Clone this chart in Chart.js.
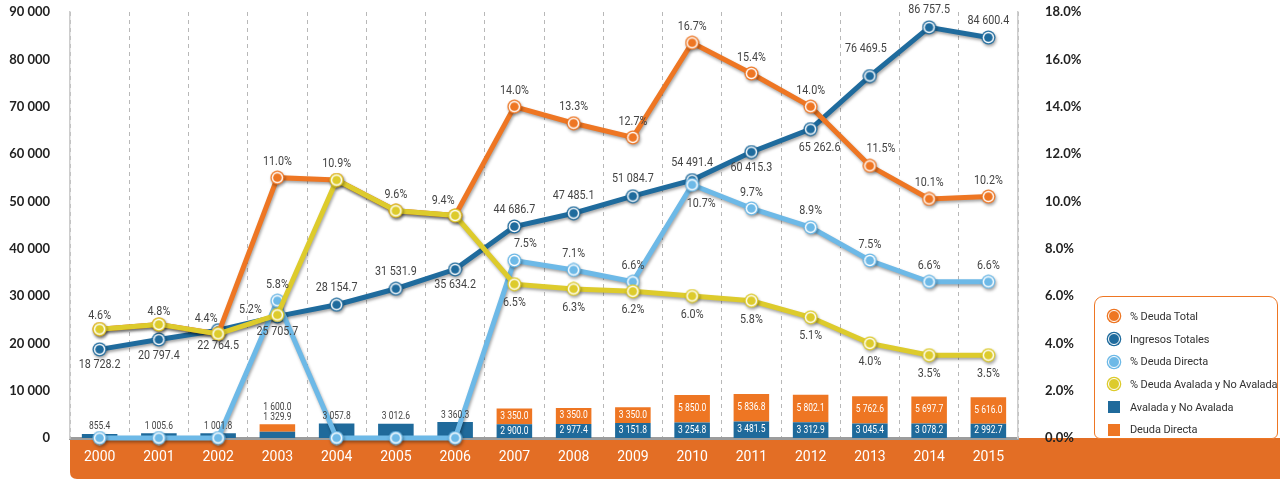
<!DOCTYPE html>
<html>
<head>
<meta charset="utf-8">
<script src="https://cdn.jsdelivr.net/npm/chart.js@4/dist/chart.umd.min.js"></script>
<style>
  html, body { margin: 0; padding: 0; background: #fff; }
  #wrap { position: relative; width: 1280px; height: 479px; overflow: hidden; }
  canvas { display: block; }
  #legend {
    position: absolute; left: 1094px; top: 296px; width: 184px; height: 143px;
    box-sizing: border-box; border: 1.5px solid #EE7623; border-radius: 9px 9px 6px 6px;
    background: #fff; padding-top: 8px;
    font: 11px Roboto, 'Open Sans', sans-serif; letter-spacing: -0.1px; color: #333; white-space: nowrap;
  }
  .row { height: 22.7px; display: flex; align-items: center; }
  .mk { width: 12px; height: 12px; margin-left: 13px; margin-right: 10px; flex: none; box-sizing: border-box; }
  .dot { border-radius: 50%; }
</style>
</head>
<body>
<div id="wrap">
  <canvas id="c" width="1280" height="479"></canvas>
  <div id="legend"></div>
</div>
<script>
// ---------- DATA ----------
const years = ['2000','2001','2002','2003','2004','2005','2006','2007','2008','2009','2010','2011','2012','2013','2014','2015'];
const ingresosTotales = [18728.2, 20797.4, 22764.5, 25705.7, 28154.7, 31531.9, 35634.2, 44686.7, 47485.1, 51084.7, 54491.4, 60415.3, 65262.6, 76469.5, 86757.5, 84600.4];
const pctDeudaTotal = [4.6, 4.8, 4.4, 11.0, 10.9, 9.6, 9.4, 14.0, 13.3, 12.7, 16.7, 15.4, 14.0, 11.5, 10.1, 10.2];
const pctDeudaDirecta = [0, 0, 0, 5.8, 0, 0, 0, 7.5, 7.1, 6.6, 10.7, 9.7, 8.9, 7.5, 6.6, 6.6];
const pctDeudaAvalada = [4.6, 4.8, 4.4, 5.2, 10.9, 9.6, 9.4, 6.5, 6.3, 6.2, 6.0, 5.8, 5.1, 4.0, 3.5, 3.5];
const avaladaNoAvalada = [855.4, 1005.6, 1001.8, 1329.9, 3057.8, 3012.6, 3360.3, 2900.0, 2977.4, 3151.8, 3254.8, 3481.5, 3312.9, 3045.4, 3078.2, 2992.7];
const deudaDirecta = [0, 0, 0, 1600.0, 0, 0, 0, 3350.0, 3350.0, 3350.0, 5850.0, 5836.8, 5802.1, 5762.6, 5697.7, 5616.0];
const leftTicks = { min: 0, max: 90000, step: 10000 };
const rightTicks = { min: 0, max: 18, step: 2 };

// ---------- LABEL PLACEMENT (codes, not data) ----------
const placeIngresos = ['b','b','b','b','A','A','b','A','A','A','A','b','br','AL','A','A'];
const placeTotal    = ['n','n','n','a','n','n','n','a','a','a','a','a','a','ar','a','a'];
const placeDirecta  = ['n','n','n','a','n','n','n','ar','a','a','br','a','a','a','a','a'];
const placeAvalada  = ['a2','a2','al','l','a','a','al','B','B','B','B','B','B','B','B','B'];
const OFFS = { a:[0,-16], a2:[0,-13], A:[0,-17], AL:[-4,-27], b:[0,16], B:[0,19], al:[-12,-15], ar:[11,-17], br:[9,19], l:[-27,-5] };

// ---------- STYLE ----------
const C_ORANGE = '#EE7623', C_DBLUE = '#1F6B9D', C_LBLUE = '#6DB9E7', C_YELLOW = '#DDCB2C';
const C_BAR_BLUE = '#1F6A9B', C_BAR_ORANGE = '#EE7623', C_BAND = '#E36E25';
const LBL = "Roboto, 'Open Sans', sans-serif";
const BOLD = "Lato, 'DejaVu Sans', sans-serif";

function fmtNum(v) {
  const [i, d] = v.toFixed(1).split('.');
  return i.replace(/\B(?=(\d{3})+(?!\d))/g, ' ') + '.' + d;
}
function fmtInt(v) { return String(v).replace(/\B(?=(\d{3})+(?!\d))/g, ' '); }
function fmtPct(v) { return v.toFixed(1) + '%'; }

function marker(color) {
  const s = 15, c = document.createElement('canvas');
  c.width = c.height = s;
  const g = c.getContext('2d'), m = s / 2;
  g.beginPath(); g.arc(m, m, 7, 0, 2 * Math.PI); g.fillStyle = color; g.fill();
  g.beginPath(); g.arc(m, m, 5.7, 0, 2 * Math.PI); g.fillStyle = '#fff'; g.fill();
  g.beginPath(); g.arc(m, m, 4.3, 0, 2 * Math.PI); g.fillStyle = color; g.fill();
  return c;
}

function lineDs(label, data, color, axis, order) {
  return {
    type: 'line', label, data, yAxisID: axis, order,
    borderColor: color, backgroundColor: color, borderWidth: 5,
    pointStyle: marker(color), pointRadius: 7, pointHoverRadius: 7,
    tension: 0, clip: false, fill: false
  };
}

function narrowText(ctx, text, x, y, sx) {
  ctx.save();
  ctx.translate(x, y);
  ctx.scale(sx, 1);
  ctx.fillText(text, 0, 0);
  ctx.restore();
}

// ---------- PLUGINS ----------
const bandPlugin = {
  id: 'band',
  beforeDraw(chart) {
    const { ctx, chartArea: a, width, height } = chart;
    const x0 = a.left, y0 = a.bottom, r = 7;
    ctx.save();
    ctx.fillStyle = C_BAND;
    ctx.beginPath();
    ctx.moveTo(x0, y0);
    ctx.lineTo(width, y0);
    ctx.lineTo(width, height);
    ctx.lineTo(x0 + r, height);
    ctx.quadraticCurveTo(x0, height, x0, height - r);
    ctx.closePath();
    ctx.fill();
    ctx.restore();
  }
};

const shadowPlugin = {
  id: 'shadow',
  beforeDatasetDraw(chart, args) {
    if (chart.data.datasets[args.index].type !== 'line') return;
    const c = chart.ctx;
    c.save();
    c.shadowColor = 'rgba(0,0,0,0.35)';
    c.shadowBlur = 3; c.shadowOffsetX = 1; c.shadowOffsetY = 2;
  },
  afterDatasetDraw(chart, args) {
    if (chart.data.datasets[args.index].type !== 'line') return;
    chart.ctx.restore();
  }
};

const labelsPlugin = {
  id: 'vlabels',
  afterDatasetsDraw(chart) {
    const ctx = chart.ctx;
    ctx.save();
    ctx.textAlign = 'center';
    ctx.textBaseline = 'middle';
    const specs = [
      [1, placeIngresos, fmtNum],
      [0, placeTotal, fmtPct],
      [2, placeDirecta, fmtPct],
      [3, placeAvalada, fmtPct]
    ];
    ctx.font = '12.5px ' + LBL;
    ctx.fillStyle = '#444';
    specs.forEach(([idx, place, f]) => {
      const meta = chart.getDatasetMeta(idx);
      const data = chart.data.datasets[idx].data;
      meta.data.forEach((el, j) => {
        const o = OFFS[place[j]];
        if (!o) return;
        narrowText(ctx, f(data[j]), el.x + o[0], el.y + o[1], 0.86);
      });
    });
    const mb = chart.getDatasetMeta(4), mo = chart.getDatasetMeta(5);
    const db = chart.data.datasets[4].data, dor = chart.data.datasets[5].data;
    ctx.font = '10px ' + LBL;
    mb.data.forEach((eb, j) => {
      const eo = mo.data[j];
      const hO = eo.base - eo.y;
      if (dor[j] === 0 || hO < 12) {
        const top = Math.min(eb.y, eo.y);
        ctx.fillStyle = '#444';
        narrowText(ctx, fmtNum(db[j]), eb.x, top - 7, 0.85);
        if (dor[j] !== 0) narrowText(ctx, fmtNum(dor[j]), eb.x, top - 17, 0.85);
      } else {
        ctx.fillStyle = '#fff';
        narrowText(ctx, fmtNum(db[j]), eb.x, (eb.y + eb.base) / 2, 0.85);
        narrowText(ctx, fmtNum(dor[j]), eo.x, (eo.y + eo.base) / 2, 0.85);
      }
    });
    ctx.restore();
  }
};

// ---------- CHART ----------
new Chart(document.getElementById('c'), {
  type: 'bar',
  data: {
    labels: years,
    datasets: [
      lineDs('% Deuda Total', pctDeudaTotal, C_ORANGE, 'y1', 3),
      lineDs('Ingresos Totales', ingresosTotales, C_DBLUE, 'y', 4),
      lineDs('% Deuda Directa', pctDeudaDirecta, C_LBLUE, 'y1', 2),
      lineDs('% Deuda Avalada y No Avalada', pctDeudaAvalada, C_YELLOW, 'y1', 1),
      { type: 'bar', label: 'Avalada y No Avalada', data: avaladaNoAvalada, yAxisID: 'y', stack: 'deuda', order: 10,
        backgroundColor: C_BAR_BLUE, borderWidth: 0, barPercentage: 0.6, categoryPercentage: 1 },
      { type: 'bar', label: 'Deuda Directa', data: deudaDirecta, yAxisID: 'y', stack: 'deuda', order: 10,
        backgroundColor: C_BAR_ORANGE, borderWidth: 0, barPercentage: 0.6, categoryPercentage: 1 }
    ]
  },
  options: {
    responsive: false,
    animation: false,
    devicePixelRatio: 1,
    layout: { padding: { top: 12, left: 0, right: 0, bottom: 0 } },
    plugins: { legend: { display: false }, tooltip: { enabled: false } },
    scales: {
      x: {
        offset: true,
        grid: { display: true, offset: true, color: '#b8b8b8', lineWidth: 1, drawTicks: false },
        border: { display: true, color: '#9c9c9c', width: 3, dash: [4, 4] },
        ticks: { color: '#fff', font: { family: LBL, size: 14 }, padding: 11 },
        afterFit: s => { s.height = 41; }
      },
      y: {
        position: 'left', min: leftTicks.min, max: leftTicks.max,
        grid: { display: false, drawTicks: true, tickLength: 18 },
        border: { display: true, color: '#cdcdcd', width: 1.5 },
        ticks: { stepSize: leftTicks.step, padding: 2, color: '#222',
          font: { family: BOLD, size: 13, weight: 'bold' }, callback: v => fmtInt(v) },
        afterFit: s => { s.width = 70; }
      },
      y1: {
        position: 'right', min: rightTicks.min, max: rightTicks.max,
        grid: { display: false, drawTicks: true, tickLength: 25 },
        border: { display: true, color: '#cdcdcd', width: 1.5 },
        ticks: { stepSize: rightTicks.step, padding: 2, color: '#222',
          font: { family: BOLD, size: 13, weight: 'bold' }, callback: v => v.toFixed(1) + '%' },
        afterFit: s => { s.width = 262; }
      }
    }
  },
  plugins: [bandPlugin, shadowPlugin, labelsPlugin]
});

// ---------- HTML LEGEND ----------
const legendItems = [
  ['% Deuda Total', C_ORANGE, 'dot'],
  ['Ingresos Totales', C_DBLUE, 'dot'],
  ['% Deuda Directa', C_LBLUE, 'dot'],
  ['% Deuda Avalada y No Avalada', C_YELLOW, 'dot'],
  ['Avalada y No Avalada', C_BAR_BLUE, 'sq'],
  ['Deuda Directa', C_BAR_ORANGE, 'sq']
];
const lg = document.getElementById('legend');
legendItems.forEach(([t, col, kind]) => {
  const row = document.createElement('div'); row.className = 'row';
  const mk = document.createElement('span'); mk.className = 'mk ' + kind;
  mk.style.background = col;
  if (kind === 'dot') {
    mk.style.border = '1.5px solid #fff';
    mk.style.boxShadow = '0 0 0 1.3px ' + col;
  }
  const tx = document.createElement('span'); tx.textContent = t;
  row.appendChild(mk); row.appendChild(tx); lg.appendChild(row);
});
</script>
</body>
</html>
